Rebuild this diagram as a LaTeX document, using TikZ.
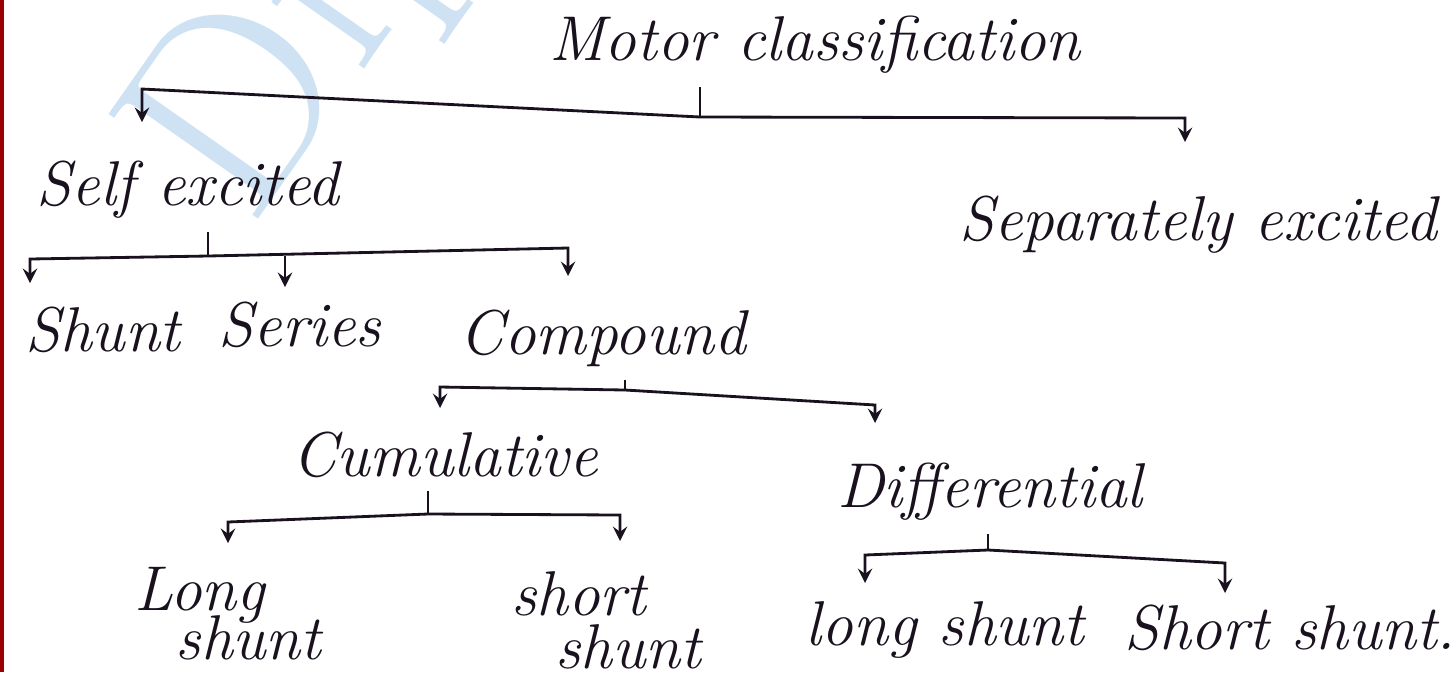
\documentclass[tikz,border=0pt]{standalone}
\definecolor{wmark}{RGB}{206,226,243}
\definecolor{ink}{RGB}{25,18,30}

\begin{document}
\begin{tikzpicture}[x=0.01cm,y=-0.01cm,>=stealth,thick,ink,font=\itshape\fontsize{18}{20}\selectfont]
    \useasboundingbox[fill=white] (0,0) rectangle (1455,672);
    % watermark and margin
    \node[wmark,rotate=55,inner sep=0pt,anchor=base west,font=\rmfamily\upshape\fontsize{76}{76}\selectfont] (wm) at (250,232) {Dip};
    \draw[red!60!black,line width=1pt] (2,0) -- (2,672);

    \node (motor) at (815,45) {Motor classification};
    \node (self) at (188,190) {Self excited};
    \node (sep) at (1198,225) {Separately excited};
    \node (shunt) at (103,330) {Shunt};
    \node (series) at (300,325) {Series};
    \node (comp) at (603,338) {Compound};
    \node (cumu) at (445,455) {Cumulative};
    \node (diff) at (990,492) {Differential};
    \node[align=left] (lsa) at (228,614) {Long\\[-6pt]\hspace*{0.65em}shunt};
    \node[align=left] (ssa) at (606,620) {short\\[-5pt]\hspace*{0.7em}shunt};
    \node (lsb) at (945,630) {long shunt};
    \node (ssb) at (1290,628) {Short shunt.};

    % motor classification
    \coordinate (jm) at (700,117);
    \coordinate (lm) at (142,89);
    \coordinate (rm) at (1185,118);
    \coordinate (em1) at (142,122);
    \coordinate (em2) at (1185,142);
    \draw (motor.south -| jm) -- (jm);
    \draw[->] (jm) -- (lm) -- (em1);
    \draw[->] (jm) -- (rm) -- (em2);

    % self excited
    \coordinate (js) at (208,256);
    \coordinate (ls) at (30,259);
    \coordinate (rs) at (568,248);
    \coordinate (es1) at (30,283);
    \coordinate (es2) at (285,287);
    \coordinate (es3) at (568,276);
    \draw (self.south -| js) -- (js);
    \draw[->] (js) -- (ls) -- (es1);
    \draw[->] (js -| es2) -- (es2);
    \draw[->] (js) -- (rs) -- (es3);

    % compound
    \coordinate (jc) at (625,390);
    \coordinate (lc) at (440,387);
    \coordinate (rc) at (875,405);
    \coordinate (ec1) at (440,408);
    \coordinate (ec2) at (875,423);
    \draw (comp.south -| jc) -- (jc);
    \draw[->] (jc) -- (lc) -- (ec1);
    \draw[->] (jc) -- (rc) -- (ec2);

    % cumulative
    \coordinate (jcu) at (428,514);
    \coordinate (lcu) at (228,522);
    \coordinate (rcu) at (620,515);
    \coordinate (ecu1) at (228,543);
    \coordinate (ecu2) at (620,541);
    \draw (cumu.south -| jcu) -- (jcu);
    \draw[->] (jcu) -- (lcu) -- (ecu1);
    \draw[->] (jcu) -- (rcu) -- (ecu2);

    % differential
    \coordinate (jd) at (988,550);
    \coordinate (ld) at (865,555);
    \coordinate (rd) at (1225,563);
    \coordinate (ed1) at (865,583);
    \coordinate (ed2) at (1225,593);
    \draw (diff.south -| jd) -- (jd);
    \draw[->] (jd) -- (ld) -- (ed1);
    \draw[->] (jd) -- (rd) -- (ed2);
\end{tikzpicture}
\end{document}
